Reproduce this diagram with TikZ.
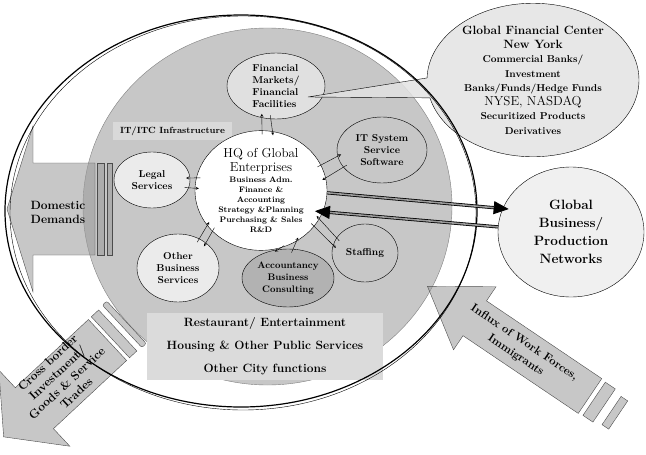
\documentclass[tikz,border=0pt]{standalone}
\usetikzlibrary{shapes.geometric, shapes.callouts, arrows.meta}
\newcommand{\fsz}[2]{\fontsize{#1}{#2}\selectfont}
\definecolor{ringgray}{gray}{0.78}
\definecolor{paper}{gray}{0.89}

\begin{document}
\begin{tikzpicture}[x=1pt, y=-1pt,
    bubble/.style={ellipse, draw, thin, inner sep=0pt, align=center,
        font=\bfseries\fsz{10}{12}},
    labelbox/.style={rectangle, inner sep=0pt},
    arrow/.style={->, >=stealth, thin, shorten <=-4pt, shorten >=-4pt},
    link/.style={-{Triangle[length=15pt,width=13pt]}, line width=0.8pt,
        double=black!40, double distance=1.6pt, shorten >=-6pt},
    block/.style={draw=black!70, thin, fill=black!40, fill opacity=0.55},
    blocktext/.style={align=center, font=\bfseries\fsz{12}{14}}
]
    \useasboundingbox (0,0) rectangle (646,455);

    % Define the ring geometry
    \def\ringX{241}
    \def\ringY{211}

    % City area (gray disc)
    \draw[black!50, thin, fill=ringgray] (267.5,206.5) ellipse [x radius=184.5, y radius=178.5];

    % Domestic demands: block arrow pointing left
    \begin{scope}[shift={(95,209)}, rotate=180]
        \draw[block] (0,-46) -- (62,-46) -- (62,-83) -- (88,0) -- (62,83) -- (62,46) -- (0,46) -- cycle;
        \draw[block] (-2,-46) rectangle (-9,46);
        \draw[block] (-12,-46) rectangle (-17,46);
    \end{scope}

    % Cross border trades: block arrow pointing down-left
    \begin{scope}[shift={(107.5,340)}, rotate=223]
        \draw[block] (0,-28) -- (100,-28) -- (100,-52) -- (142,0) -- (100,52) -- (100,28) -- (0,28) -- cycle;
        \draw[block] (-4,-28) rectangle (-14,28);
        \draw[block, rounded corners=2pt] (-20,-29) rectangle (-26,29);
    \end{scope}

    % Influx of work forces: block arrow pointing up-left
    \begin{scope}[shift={(590,396)}, rotate=146]
        \draw[block] (0,-21) -- (139,-21) -- (139,-38) -- (196,0) -- (139,38) -- (139,21) -- (0,21) -- cycle;
        \draw[block] (-5,-20) rectangle (-17,20);
        \draw[block] (-26,-17) rectangle (-34,17);
    \end{scope}

    % Labels on the gray disc
    \node[labelbox, fill=black!15, minimum width=119, minimum height=18,
        font=\bfseries\fsz{9}{11}] (infra) at (172.5,131) {IT/ITC Infrastructure};
    \node[labelbox, fill=black!14, minimum width=236, minimum height=67, align=center,
        font=\bfseries\fsz{12}{23}] (city) at (265,346.5)
        {Restaurant/ Entertainment\\Housing \& Other Public Services\\Other City functions};

    % Service nodes
    \node[bubble, fill=black!12, minimum width=98, minimum height=66, align=left] (fin) at (276,86)
        {Financial\\Markets/\\Financial\\Facilities};
    \node[bubble, fill=ringgray, minimum width=90, minimum height=66] (itsys) at (382,150)
        {IT System\\Service\\Software};
    \node[bubble, fill=black!8, minimum width=76, minimum height=56] (legal) at (152,180)
        {Legal\\Services};
    \node[bubble, fill=black!8, minimum width=82, minimum height=68] (other) at (178,268)
        {Other\\Business\\Services};
    \node[bubble, fill=black!30, minimum width=92, minimum height=58,
        font=\bfseries\fsz{9.5}{12}] (acc) at (288,278) {Accountancy\\Business\\Consulting};
    \node[bubble, fill=ringgray, minimum width=66, minimum height=58] (staff) at (365,253) {Staffing};
    \node[bubble, fill=white, minimum width=132, minimum height=105,
        font=\bfseries\fsz{8}{10}] (hq) at (261,190.5)
        {{\mdseries\fsz{13}{15}HQ of Global}\\[2pt]{\mdseries\fsz{13}{15}Enterprises}\\[1pt]
         Business Adm.\\Finance \&\\Accounting\\Strategy \&Planning\\Purchasing \& Sales\\R\&D};
    \node[bubble, fill=black!6, minimum width=146, minimum height=130,
        font=\bfseries\fsz{13.5}{18}] (global) at (571,232)
        {Global\\Business/\\Production\\Networks};

    % Financial center callout
    \coordinate (tip) at (308,97);
    \node[ellipse callout, draw, thin, fill=paper, fill opacity=0.85, text opacity=1,
        callout absolute pointer={(tip)}, callout pointer arc=15,
        minimum width=212, minimum height=144, inner sep=0pt, align=center,
        font=\bfseries\fsz{10}{14.3}] (nyc) at (533,80)
        {{\fsz{12}{14}Global Financial Center}\\{\fsz{12}{14}New York}\\Commercial Banks/\\Investment\\
         Banks/Funds/Hedge Funds\\{\mdseries\fsz{13}{15}NYSE, NASDAQ}\\Securitized Products\\Derivatives};

    % Outer ring
    \draw[line width=1.2pt] (\ringX,\ringY) ellipse [x radius=236, y radius=196];
    \draw[thin] (243,213) ellipse [x radius=233, y radius=197];

    % Block arrow texts
    \node[blocktext] (domestic) at (58,212) {Domestic\\Demands};
    \node[blocktext, rotate=43] (trades) at (62,378)
        {Cross border\\Investment/\\Goods \& Service\\Trades};
    \node[blocktext, font=\bfseries\fsz{11.5}{15}, rotate=-34] (influx) at (520,349)
        {Influx of Work Forces,\\Immigrants};

    % Paired arrows between HQ and the services
    \draw[arrow] (hq.89) -- (fin.-114);
    \draw[arrow] (fin.-99) -- (hq.79);
    \draw[arrow] (hq.23) -- (itsys.188);
    \draw[arrow] (itsys.204) -- (hq.11);
    \draw[arrow] (hq.169) -- (legal.3);
    \draw[arrow] (legal.-12) -- (hq.178);
    \draw[arrow] (other.54) -- (hq.213);
    \draw[arrow] (hq.220) -- (other.42);
    \draw[arrow] (hq.-71) -- (acc.109);
    \draw[arrow] (acc.80) -- (hq.-55);
    \draw[arrow] (hq.-34) -- (staff.166);
    \draw[arrow] (staff.152) -- (hq.-26);

    % Links to the global networks
    \draw[link] (hq.-2) -- (global.161);
    \draw[link, shorten >=-8pt] (global.176) -- (hq.-19);

\end{tikzpicture}
\end{document}
